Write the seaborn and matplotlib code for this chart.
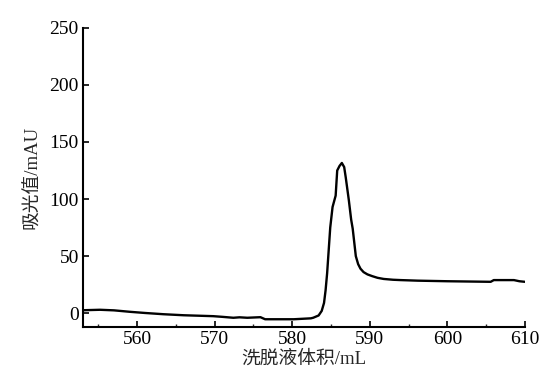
import pandas as pd
import matplotlib.pyplot as plt
from matplotlib.ticker import MultipleLocator
import seaborn as sns

# ========== Data ==========
volume = [553.0, 555.2, 557.0, 559.1, 561.0, 563.4, 566.0, 569.8, 571.0, 572.4, 573.2, 574.2,
          575.9, 576.5, 578.0, 580.2, 582.4, 582.7, 583.4, 583.8, 584.1, 584.3, 584.5, 584.7,
          584.9, 585.2, 585.6, 585.8, 586.1, 586.4, 586.7, 586.9, 587.3, 587.6, 587.8, 588.2,
          588.5, 588.8, 589.2, 589.7, 590.3, 591.0, 591.8, 593.0, 594.0, 596.2, 600.0, 605.6,
          606.0, 608.6, 609.3, 610.0]
absorbance = [2.6, 3.0, 2.5, 1.2, 0.2, -0.9, -1.8, -2.6, -3.2, -4.0, -3.6, -4.0,
              -3.5, -5.3, -5.3, -5.3, -4.5, -4.0, -2.0, 2.0, 9.0, 20.0, 35.0, 55.0,
              75.0, 93.0, 103.0, 125.0, 129.0, 131.6, 128.0, 119.0, 99.0, 82.0, 74.0, 50.0,
              43.0, 39.0, 36.0, 34.0, 32.5, 31.0, 30.0, 29.3, 29.0, 28.5, 28.0, 27.5,
              29.0, 29.0, 28.0, 27.5]

x_ticks = [560, 570, 580, 590, 600, 610]
y_ticks = [0, 50, 100, 150, 200, 250]

df = pd.DataFrame({"volume": volume, "absorbance": absorbance})

# ========== Style ==========
sns.set_theme(style="ticks")
plt.rcParams["font.family"] = ["Liberation Serif", "Noto Sans CJK SC"]
plt.rcParams["xtick.direction"] = "in"
plt.rcParams["ytick.direction"] = "in"

fig = plt.figure(figsize=(5.53, 3.81), dpi=100)
ax = fig.add_axes([0.150, 0.142, 0.799, 0.785])

sns.lineplot(data=df, x="volume", y="absorbance", color="black", linewidth=1.7, ax=ax)

ax.set_xlim(553, 610)
ax.set_ylim(-12, 250)
ax.set_xticks(x_ticks)
ax.set_yticks(y_ticks)
ax.xaxis.set_minor_locator(MultipleLocator(5))
ax.tick_params(axis="both", which="major", labelsize=14, length=4, width=1.2,
               colors="black", pad=3)
ax.tick_params(axis="x", which="minor", length=2, width=1)

for side in ["top", "right"]:
    ax.spines[side].set_visible(False)
for side in ["left", "bottom"]:
    ax.spines[side].set_linewidth(1.5)
    ax.spines[side].set_color("black")

ax.set_xlabel("洗脱液体积/mL", fontsize=13.5, labelpad=2)
ax.set_ylabel("吸光值/mAU", fontsize=13.5, labelpad=6)

fig.savefig("out.png", dpi=100)
